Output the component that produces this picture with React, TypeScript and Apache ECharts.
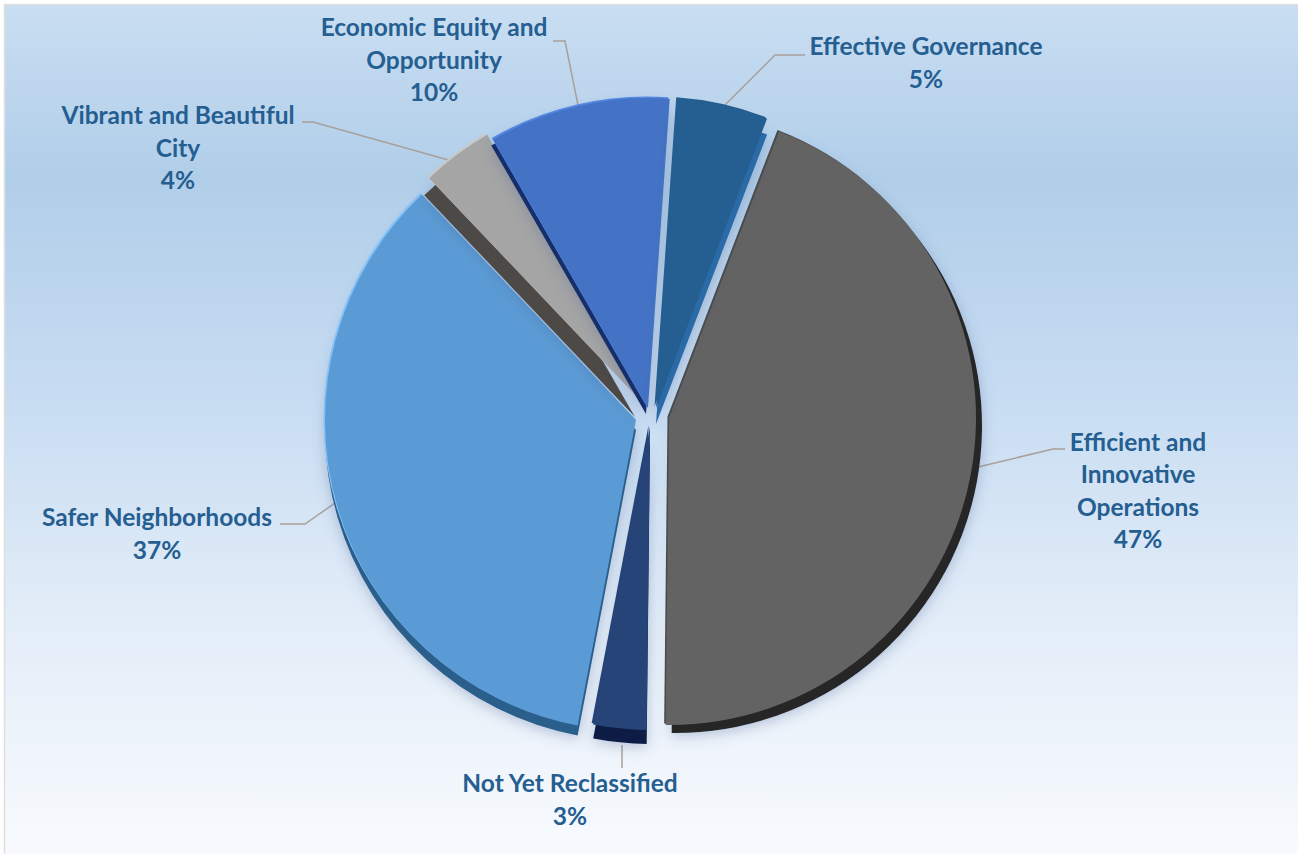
import React, { useEffect, useRef } from "react";
import * as echarts from "echarts";

const categories = [
  "Efficient and\nInnovative\nOperations",
  "Not Yet Reclassified",
  "Safer Neighborhoods",
  "Vibrant and Beautiful\nCity",
  "Economic Equity and\nOpportunity",
  "Effective Governance",
];
const percents = [47, 3, 37, 4, 10, 5];
const firstSliceNorthAngle = 21;

const sliceStyles = [
  { cx: 669, cy: 418, r: 307, face: "#636363", side: "#262626", dx: 6, dy: 8, rim: "#4a4a4a" },
  { cx: 650, cy: 427, r: 303, face: "#264478", side: "#111f45", dx: 0, dy: 14, rim: "#264478" },
  { cx: 636, cy: 420, r: 311, face: "#5b9bd5", side: "#2a5f8c", dx: 0, dy: 10, rim: "#84c2f7" },
  { cx: 640, cy: 400, r: 306, face: "#a5a5a5", side: "#4d4946", dx: -5, dy: 17, rim: "#c8c8c8" },
  { cx: 648, cy: 408, r: 310, face: "#4472c4", side: "#142f6a", dx: -2, dy: 6, rim: "#5586e0" },
  { cx: 656, cy: 408, r: 310, face: "#255e91", side: "#2a6aa6", dx: 0, dy: 16, rim: "#255e91" },
];

const labelPlaces = [
  { x: 1138, y: 490, line: [[1065, 449], [1053, 449], [978, 467]] },
  { x: 570, y: 799, line: [[622, 768], [622, 745]] },
  { x: 157, y: 533, line: [[280, 524], [305, 524], [335, 503]] },
  { x: 178, y: 147, line: [[302, 122], [313, 122], [452, 161]] },
  { x: 434, y: 59, line: [[553, 41], [565, 41], [578, 105]] },
  { x: 926, y: 62, line: [[805, 55], [775, 55], [725, 105]] },
];

export default function App() {
  const ref = useRef<HTMLDivElement>(null);
  useEffect(() => {
    document.body.style.margin = "0";
    const chart = echarts.init(ref.current!, undefined, { renderer: "svg" });
    const total = percents.reduce((a, b) => a + b, 0);
    const series: any[] = [];
    let north = firstSliceNorthAngle;
    const base = {
      type: "pie",
      silent: true,
      clockwise: true,
      animation: false,
      avoidLabelOverlap: false,
    };
    percents.forEach((value, i) => {
      const s = sliceStyles[i];
      const startAngle = 90 - north;
      const rest = { value: total - value, itemStyle: { color: "transparent" }, label: { show: false }, labelLine: { show: false } };
      const layer = (dx: number, dy: number, color: string, extra: any) => ({
        ...base,
        startAngle,
        center: [s.cx + dx, s.cy + dy],
        radius: [0, s.r],
        label: { show: false },
        labelLine: { show: false },
        data: [{ name: categories[i], value, itemStyle: { color, ...extra } }, rest],
      });
      series.push(
        layer(s.dx, s.dy, s.side, {
          shadowBlur: 14,
          shadowColor: "rgba(70,100,150,0.35)",
          shadowOffsetX: 0,
          shadowOffsetY: 3,
        })
      );
      series.push(layer(-1.5, -1.5, s.rim, {}));
      series.push({
        ...base,
        startAngle,
        center: [s.cx, s.cy],
        radius: [0, s.r],
        labelLine: { show: true, length: 10, length2: 10, lineStyle: { color: "#a8a09a", width: 1.5 } },
        labelLayout: () => ({
          x: labelPlaces[i].x,
          y: labelPlaces[i].y,
          align: "center",
          verticalAlign: "middle",
          labelLinePoints: labelPlaces[i].line,
        }),
        data: [
          {
            name: categories[i],
            value,
            itemStyle: { color: s.face },
            label: {
              show: true,
              position: "outside",
              formatter: `${categories[i]}\n${value}%`,
              fontFamily: "Lato",
              fontWeight: "bold",
              fontSize: 24.5,
              lineHeight: 32.4,
              color: "#255e91",
              align: "center",
            },
          },
          rest,
        ],
      });
      north += (value / total) * 360;
    });
    chart.setOption({
      animation: false,
      backgroundColor: "#ffffff",
      graphic: [
        {
          type: "rect",
          z: -1,
          silent: true,
          shape: { x: 4.5, y: 4.5, width: 1300, height: 860 },
          style: {
            stroke: "#dedede",
            lineWidth: 1.5,
            fill: new echarts.graphic.LinearGradient(0, 0, 0, 1, [
              { offset: 0, color: "#c9def2" },
              { offset: 0.2, color: "#b1cee9" },
              { offset: 0.45, color: "#c7dcf2" },
              { offset: 0.72, color: "#e3edf8" },
              { offset: 1, color: "#f9fbfe" },
            ]),
          },
        },
      ],
      series,
    });
    return () => chart.dispose();
  }, []);
  return <div ref={ref} style={{ width: 1298, height: 854 }} />;
}
